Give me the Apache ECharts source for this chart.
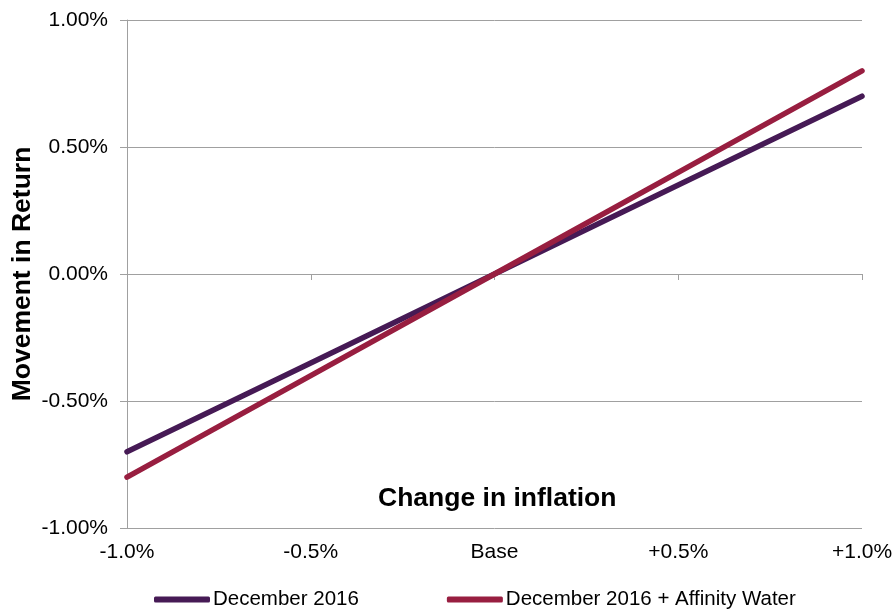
<!DOCTYPE html>
<html><head><meta charset="utf-8">
<script src="https://cdn.jsdelivr.net/npm/echarts@6/dist/echarts.min.js"></script>
<style>html,body{margin:0;padding:0;background:#fff}#c{width:895px;height:612px}</style>
</head><body><div id="c"></div>
<script>
const categories = ['-1.0%', '-0.5%', 'Base', '+0.5%', '+1.0%'];
const dec2016 = [-0.70, -0.35, 0.00, 0.35, 0.70];
const decAffinity = [-0.80, -0.40, 0.00, 0.40, 0.80];
const seriesNames = ['December 2016', 'December 2016 + Affinity Water'];
const FONT = 'Liberation Sans, Arial, sans-serif';
const chart = echarts.init(document.getElementById('c'));
chart.setOption({
  animation: false,
  backgroundColor: '#fff',
  grid: {left: 127, right: 33, top: 20, bottom: 84, outerBoundsMode: 'none', containLabel: false},
  graphic: [{
    type: 'text', left: 378, top: 485,
    style: {text: 'Change in inflation', fontFamily: FONT, fontSize: 26.5, fontWeight: 'bold', fill: '#000'}
  }],
  legend: {
    top: 589, left: 154, itemGap: 88, padding: 0,
    icon: 'roundRect', itemWidth: 56, itemHeight: 6,
    textStyle: {fontFamily: FONT, fontSize: 20.5, color: '#000', padding: [0,0,0,-2]},
    data: seriesNames
  },
  xAxis: [{
    type: 'category', data: categories, boundaryGap: false,
    axisLine: {onZero: true, lineStyle: {color: '#a0a0a0', width: 1}},
    axisTick: {show: true, length: 6, lineStyle: {color: '#a0a0a0'}},
    axisLabel: {show: false}, splitLine: {show: false}
  }, {
    type: 'category', data: categories, boundaryGap: false, position: 'bottom',
    axisLine: {show: false, onZero: false}, axisTick: {show: false},
    axisLabel: {fontFamily: FONT, fontSize: 21, color: '#000', margin: 14},
    splitLine: {show: false}
  }],
  yAxis: {
    type: 'value', min: -1, max: 1, interval: 0.5,
    name: 'Movement in Return', nameLocation: 'middle', nameGap: 91, nameRotate: 90,
    nameMoveOverlap: false,
    nameTextStyle: {fontFamily: FONT, fontSize: 26.5, fontWeight: 'bold', color: '#000'},
    axisLine: {show: true, lineStyle: {color: '#a0a0a0'}},
    axisTick: {show: true, length: 7, lineStyle: {color: '#a0a0a0'}},
    axisLabel: {fontFamily: FONT, fontSize: 21, color: '#000', margin: 19,
      formatter: v => v.toFixed(2) + '%'},
    splitLine: {show: true, lineStyle: {color: '#a0a0a0', width: 1}}
  },
  series: [{
    name: seriesNames[0], type: 'line', data: dec2016, xAxisIndex: 0,
    symbol: 'none', lineStyle: {color: '#461a55', width: 5.5, cap: 'round'}, itemStyle: {color: '#461a55'}
  }, {
    name: seriesNames[1], type: 'line', data: decAffinity, xAxisIndex: 0,
    symbol: 'none', lineStyle: {color: '#981e40', width: 5.5, cap: 'round'}, itemStyle: {color: '#981e40'}
  }]
});
</script></body></html>
